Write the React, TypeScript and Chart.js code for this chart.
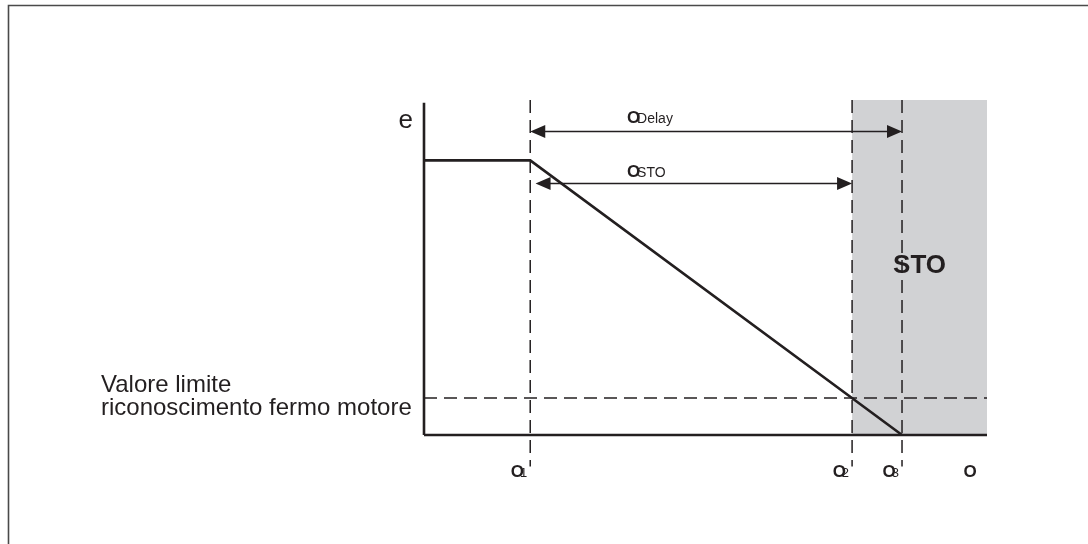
import React, { useEffect, useRef } from "react";
import { Chart, registerables } from "chart.js";

Chart.register(...registerables);

// ---- data (time in arbitrary units, speed in % of plateau) ----
const xMax = 10.6;
const yMax = 122;
const yAxisTop = 121;
const speedProfileX = [0, 2, 9];
const speedProfileY = [100, 100, 0];
const limitValue = 13.5;
const timeMarks = [2, 8.06, 9]; // t1, t2, t3
const timeMarkLabels = ["1", "2", "3"];
const stoZoneStart = 8.06;
const delayArrow = { from: 2, to: 9, y: 110.7 };
const stoArrow = { from: 2.1, to: 8.06, y: 91.8 };
const delayLabel = { x: 3.82, main: "O", sub: "Delay" };
const stoLabel = { x: 3.82, main: "O", sub: "STO" };
const axisEndLabel = { x: 10.28, text: "O" };
const speedAxisLabel = "e";
const zoneLabel = "STO";
const limitLabelLines = ["Valore limite", "riconoscimento fermo motore"];

const FONT = '"Liberation Sans", Arial, Helvetica, sans-serif';
const INK = "#231f20";

const annotationPlugin = {
  id: "diagramAnnotations",
  afterDatasetsDraw(chart: any) {
    const { ctx, scales } = chart;
    const xs = scales.x;
    const ys = scales.y;
    const px = (v: number) => xs.getPixelForValue(v);
    const py = (v: number) => ys.getPixelForValue(v);
    ctx.save();

    // frame border
    ctx.strokeStyle = "#4a4a4a";
    ctx.lineWidth = 1.6;
    ctx.beginPath();
    ctx.moveTo(8.5, 600);
    ctx.lineTo(8.5, 5.5);
    ctx.lineTo(1200, 5.5);
    ctx.stroke();

    // arrows
    const arrowHead = (x: number, y: number, dir: number) => {
      ctx.beginPath();
      ctx.moveTo(x, y);
      ctx.lineTo(x - dir * 15, y - 6.5);
      ctx.lineTo(x - dir * 15, y + 6.5);
      ctx.closePath();
      ctx.fill();
    };
    ctx.fillStyle = INK;
    ctx.strokeStyle = INK;
    ctx.lineWidth = 1.5;
    for (const a of [delayArrow, stoArrow]) {
      const x1 = px(a.from);
      const x2 = px(a.to);
      const y = Math.round(py(a.y)) + 0.5;
      ctx.beginPath();
      ctx.moveTo(x1 + 6, y);
      ctx.lineTo(x2 - 6, y);
      ctx.stroke();
      arrowHead(x1, y, -1);
      arrowHead(x2, y, 1);
    }

    // subscript labels
    const drawSub = (x: number, baseline: number, main: string, sub: string, mainSize: number, subSize: number, overlap: number) => {
      ctx.textAlign = "left";
      ctx.textBaseline = "alphabetic";
      ctx.font = `bold ${mainSize}px ${FONT}`;
      ctx.fillText(main, x, baseline);
      const w = ctx.measureText(main).width;
      ctx.font = `${subSize}px ${FONT}`;
      ctx.fillText(sub, x + w - overlap, baseline);
    };
    drawSub(px(delayLabel.x), py(delayArrow.y) - 8, delayLabel.main, delayLabel.sub, 17, 14, 3);
    drawSub(px(stoLabel.x), py(stoArrow.y) - 6, stoLabel.main, stoLabel.sub, 17, 14, 3);

    // time labels below axis
    const base = py(0);
    timeMarks.forEach((t, i) => {
      ctx.font = `bold 17px ${FONT}`;
      const wMain = ctx.measureText("O").width;
      ctx.font = `13px ${FONT}`;
      const wSub = ctx.measureText(timeMarkLabels[i]).width;
      const total = wMain - 4 + wSub;
      drawSub(px(t) - 3 - total, base + 42, "O", timeMarkLabels[i], 17, 13, 4);
    });
    ctx.font = `bold 17px ${FONT}`;
    ctx.textAlign = "center";
    ctx.fillText(axisEndLabel.text, px(axisEndLabel.x), base + 42);

    // speed axis label
    ctx.font = `26px ${FONT}`;
    ctx.textAlign = "right";
    ctx.fillText(speedAxisLabel, px(0) - 11, py(yAxisTop) + 25);

    // STO zone label
    ctx.font = `bold 26px ${FONT}`;
    ctx.textAlign = "center";
    ctx.textBaseline = "middle";
    ctx.fillText(zoneLabel, (px(stoZoneStart) + px(xMax)) / 2, py(61.5));

    // limit label
    ctx.font = `24px ${FONT}`;
    ctx.textAlign = "left";
    ctx.textBaseline = "alphabetic";
    const ly = py(limitValue);
    ctx.fillText(limitLabelLines[0], px(0) - 323, ly - 6);
    ctx.fillText(limitLabelLines[1], px(0) - 323, ly + 17);

    ctx.restore();
  },
};

export default function App() {
  const ref = useRef<HTMLCanvasElement | null>(null);
  useEffect(() => {
    if (!ref.current) return;
    const dashed = { borderColor: INK, borderWidth: 1.5, borderDash: [13, 7], pointRadius: 0, fill: false, clip: false as any };
    const solid = { borderColor: INK, borderWidth: 2.6, pointRadius: 0, fill: false, tension: 0, clip: false as any };
    const chart = new Chart(ref.current, {
      type: "line",
      data: {
        datasets: [
          {
            label: "zone",
            data: [
              { x: stoZoneStart, y: yMax },
              { x: xMax, y: yMax },
            ],
            borderWidth: 0,
            borderColor: "rgba(0,0,0,0)",
            backgroundColor: "#d1d2d4",
            pointRadius: 0,
            fill: { value: 0 },
            order: 10,
          } as any,
          {
            label: "limit",
            ...dashed,
            data: [
              { x: 0, y: limitValue },
              { x: xMax, y: limitValue },
            ],
            order: 5,
          },
          ...timeMarks.map((t) => ({
            label: "mark",
            ...dashed,
            data: [
              { x: t, y: yMax },
              { x: t, y: -11.5 },
            ],
            order: 5,
          })),
          {
            label: "baseline",
            ...solid,
            data: [
              { x: 0, y: 0 },
              { x: xMax, y: 0 },
            ],
            order: 1,
          },
          {
            label: "axis",
            ...solid,
            data: [
              { x: 0, y: 0 },
              { x: 0, y: yAxisTop },
            ],
            order: 1,
          },
          {
            label: "speed",
            ...solid,
            data: speedProfileX.map((x, i) => ({ x, y: speedProfileY[i] })),
            order: 1,
          },
        ],
      },
      options: {
        animation: false,
        responsive: false,
        maintainAspectRatio: false,
        layout: { padding: { left: 424, right: 101, top: 100, bottom: 109 } },
        plugins: { legend: { display: false }, tooltip: { enabled: false } },
        scales: {
          x: { type: "linear", min: 0, max: xMax, display: false },
          y: { type: "linear", min: 0, max: yMax, display: false },
        },
        events: [],
      },
      plugins: [annotationPlugin],
    });
    return () => chart.destroy();
  }, []);
  return (
    <div style={{ position: "fixed", left: 0, top: 0, width: 1088, height: 544, background: "#fff" }}>
      <canvas ref={ref} width={1088} height={544} style={{ display: "block", width: 1088, height: 544 }} />
    </div>
  );
}
